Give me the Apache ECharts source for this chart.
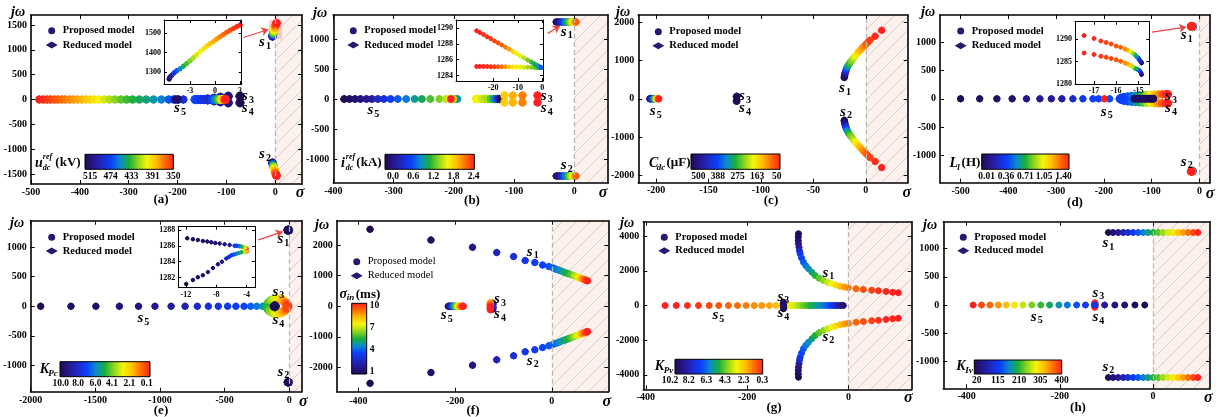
<!DOCTYPE html>
<html><head><meta charset="utf-8">
<script src="https://cdn.jsdelivr.net/npm/echarts@6/dist/echarts.min.js"></script>
<style>html,body{margin:0;padding:0;background:#fff}#c{width:1221px;height:417px}</style>
</head><body><div id="c"></div>
<script>
// ===================== DATA =====================
// tick values
const aXT=[-500,-400,-300,-200,-100,0], aYT=[-1500,-1000,-500,0,500,1000,1500], aIXT=[-3,0,3], aIYT=[1300,1400,1500], aCBT=[515,474,433,391,350];
const bXT=[-400,-300,-200,-100,0], bYT=[-1000,-500,0,500,1000], bIXT=[-20,-10,0], bIYT=[1284,1286,1288,1290], bCBT=[0.0,0.6,1.2,1.8,2.4];
const cXT=[-200,-150,-100,-50,0], cYT=[-2000,-1000,0,1000,2000], cCBT=[500,388,275,163,50];
const dXT=[-500,-400,-300,-200,-100,0], dYT=[-1000,-500,0,500,1000], dIXT=[-17,-16,-15], dIYT=[1280,1285,1290], dCBT=[0.01,0.36,0.71,1.05,1.40];
const eXT=[-2000,-1500,-1000,-500,0], eYT=[-1000,-500,0,500,1000], eIXT=[-12,-8,-4], eIYT=[1282,1284,1286,1288], eCBT=[10.0,8.0,6.0,4.1,2.1,0.1];
const fXT=[-400,-200,0], fYT=[-2000,-1000,0,1000,2000], fCBT=[1,4,7,10];
const gXT=[-400,-200,0], gYT=[-4000,-2000,0,2000,4000], gCBT=[10.2,8.2,6.3,4.3,2.3,0.3];
const hXT=[-400,-200,0], hYT=[-1000,-500,0,500,1000], hCBT=[20,115,210,305,400];

// loci: [real, imag, parameter]
// (a) parameter u_dc^ref (kV)
const a_s5=[[-483,0,350],[-475,0,352],[-467,0,355],[-460,0,357],[-452,0,360],[-445,0,363],[-437,0,366],[-430,0,369],[-421,0,372],[-413,0,375],[-405,0,378],[-396,0,381],[-387,0,385],[-379,0,389],[-370,0,394],[-361,0,399],[-350,0,405],[-339,0,411],[-328,0,417],[-316,0,423],[-304,0,428],[-292,0,432],[-278,0,436],[-264,0,440],[-249,0,445],[-233,0,451],[-218,0,460],[-208,0,466],[-198,0,472],[-188,0,478],[-204,0,505],[-200,0,510]];
const a_s34=[[-72,66,515],[-72,-66,515],[-96,66,505],[-96,-66,505],[-112,45,495],[-112,-45,495],[-125,25,488],[-125,-25,488],[-164,0,464],[-158,0,468],[-152,0,472],[-145,0,476],[-138,8,480],[-138,-8,480],[-130,0,470],[-124,0,455],[-119,0,440],[-115,0,425],[-111,0,410],[-108,0,395],[-105,0,380],[-103,0,365],[-102,0,350]];
const a_s1=[[-5.5,1266,512],[-5.4,1275,502],[-5.2,1285,490],[-4.9,1297,474],[-4.6,1307,462],[-4.2,1318,449],[-3.8,1330,436],[-3.4,1344,426],[-3.0,1358,418],[-2.6,1373,411],[-2.2,1389,404],[-1.8,1404,400],[-1.4,1418,395],[-1.0,1432,390],[-0.6,1445,385],[-0.2,1456,381],[0.2,1468,376],[0.6,1480,371],[1.0,1491,366],[1.4,1503,363],[1.8,1513,360],[2.2,1522,357],[2.6,1531,353],[3.0,1539,350]];
const a_s2=[[-5.5,-1266,512],[-5.4,-1275,502],[-5.2,-1285,490],[-4.9,-1297,474],[-4.6,-1307,462],[-4.2,-1318,449],[-3.8,-1330,436],[-3.4,-1344,426],[-3.0,-1358,418],[-2.6,-1373,411],[-2.2,-1389,404],[-1.8,-1404,400],[-1.4,-1418,395],[-1.0,-1432,390],[-0.6,-1445,385],[-0.2,-1456,381],[0.2,-1468,376],[0.6,-1480,371],[1.0,-1491,366],[1.4,-1503,363],[1.8,-1513,360],[2.2,-1522,357],[2.6,-1531,353],[3.0,-1539,350]];

// (b) parameter i_dc^ref (kA)
const b_s5=[[-382,0,0.0],[-373,0,0.06],[-364,0,0.12],[-355,0,0.18],[-345,0,0.24],[-336,0,0.3],[-326,0,0.45],[-316,0,0.55],[-305,0,0.65],[-293,0,0.8],[-279,0,0.9],[-265,0,1.05],[-253,0,1.15],[-239,0,1.3],[-224,0,1.4],[-213,0,1.55],[-194,0,1.0],[-199,0,1.2],[-207,0,1.65],[-201,0,1.9],[-205,0,2.4]];
const b_s34=[[-163,0,1.72],[-159,0,1.68],[-154,0,1.6],[-149,6,1.55],[-149,-6,1.55],[-144,0,1.5],[-139,0,1.35],[-134,0,1.15],[-130,0,0.9],[-127,0,0.6],[-124,0,0.3],[-121,0,0.05],[-116,60,1.85],[-116,-60,1.85],[-102,60,1.95],[-102,-60,1.95],[-86,60,2.1],[-86,-60,2.1],[-61,60,2.4],[-61,-60,2.4]];
const b_s1m=[[-30,1285,0.0],[-27,1285,0.15],[-24,1285,0.3],[-21,1285,0.5],[-18,1285,0.7],[-15,1285,0.9],[-12,1285,1.1],[-9,1285,1.3],[-6,1285,1.5],[-3,1285,1.7],[0,1285,1.95],[3,1285,2.2]];
const b_s2m=[[-30,-1285,0.0],[-27,-1285,0.15],[-24,-1285,0.3],[-21,-1285,0.5],[-18,-1285,0.7],[-15,-1285,0.9],[-12,-1285,1.1],[-9,-1285,1.3],[-6,-1285,1.5],[-3,-1285,1.7],[0,-1285,1.95],[3,-1285,2.2]];
const b_s1top=[[-26.8,1289.70,2.40],[-25.5,1289.47,2.38],[-24,1289.20,2.36],[-22.5,1288.93,2.34],[-21,1288.66,2.31],[-19.5,1288.39,2.28],[-18,1288.13,2.24],[-16.5,1287.86,2.20],[-15,1287.59,2.11],[-13.5,1287.32,2.0],[-12,1287.05,1.82],[-10.5,1286.78,1.72],[-9,1286.52,1.65],[-7.5,1286.25,1.55],[-6,1285.98,1.39],[-4.5,1285.71,1.25],[-3.2,1285.48,1.15],[-2.2,1285.30,1.07],[-1.4,1285.16,1.0],[-0.8,1285.05,0.9],[-0.5,1285.0,0.8]];
const b_s1bot=[[-26.8,1285.15,2.40],[-25.5,1285.14,2.39],[-24,1285.14,2.38],[-22.5,1285.13,2.36],[-21,1285.12,2.34],[-19.5,1285.12,2.30],[-18,1285.11,2.22],[-16.5,1285.10,2.12],[-15,1285.10,2.02],[-13.5,1285.09,1.85],[-12,1285.08,1.75],[-10.5,1285.07,1.70],[-9,1285.07,1.66],[-7.5,1285.06,1.60],[-6,1285.05,1.50],[-4.5,1285.04,1.42],[-3.2,1285.03,1.35],[-2.2,1285.02,1.30],[-1.4,1285.01,1.22],[-0.8,1285.0,1.1],[-0.5,1285.0,1.0]];

// (c) parameter C_dc (uF)
const c_s1=[[-20.5,560,500],[-20.3,600,490],[-20,640,470],[-19.6,690,440],[-19,740,400],[-18.3,790,360],[-17.5,840,320],[-16.6,890,285],[-15.3,940,260],[-14,990,240],[-12.6,1040,225],[-11.2,1090,205],[-9.7,1140,185],[-8.1,1190,170],[-6.5,1240,150],[-4.9,1290,135],[-3.2,1340,120],[-1.4,1390,105],[0.4,1440,90],[2.2,1490,78],[4,1540,68],[8.9,1645,58],[15.2,1801,50]];
const c_s2=[[-20.5,-560,500],[-20.3,-600,490],[-20,-640,470],[-19.6,-690,440],[-19,-740,400],[-18.3,-790,360],[-17.5,-840,320],[-16.6,-890,285],[-15.3,-940,260],[-14,-990,240],[-12.6,-1040,225],[-11.2,-1090,205],[-9.7,-1140,185],[-8.1,-1190,170],[-6.5,-1240,150],[-4.9,-1290,135],[-3.2,-1340,120],[-1.4,-1390,105],[0.4,-1440,90],[2.2,-1490,78],[4,-1540,68],[8.9,-1645,58],[15.2,-1801,50]];
const c_s5=[[-206,0,500],[-205.5,0,470],[-205,0,440],[-204,0,400],[-203,0,350],[-202,0,300],[-201,0,250],[-200,0,200],[-199,0,150],[-198,0,100],[-197.5,0,50]];
const c_s34=[[-123.5,55,450],[-123.5,-55,450],[-123,65,500],[-123,-65,500]];

// (d) parameter L_l (H)
const d_s5=[[-500,0,0.02],[-460,0,0.04],[-424,0,0.05],[-392,0,0.07],[-362,0,0.14],[-334,0,0.16],[-310,0,0.18],[-288,0,0.2],[-265,0,0.3],[-244,0,0.38],[-223,0,0.41],[-211,0,0.43],[-188,0,0.45],[-199,0,1.40]];
const d_s34=[[-167,0,0.4],[-164,18,0.41],[-158,32,0.42],[-150,42,0.44],[-142,50,0.5],[-134,56,0.58],[-126,61,0.66],[-118,66,0.76],[-110,70,0.88],[-102,73,1.0],[-94,76,1.1],[-86,78,1.2],[-78,80,1.3],[-70,80,1.37],[-66,80,1.40],
 [-164,-18,0.41],[-158,-32,0.42],[-150,-42,0.44],[-142,-50,0.5],[-134,-56,0.58],[-126,-61,0.66],[-118,-66,0.76],[-110,-70,0.88],[-102,-73,1.0],[-94,-76,1.1],[-86,-78,1.2],[-78,-80,1.3],[-70,-80,1.37],[-66,-80,1.40],
 [-136,0,0.08],[-130,0,0.07],[-124,0,0.06],[-118,0,0.05],[-112,0,0.04],[-106,0,0.03],[-100,0,0.02],[-97,0,0.01]];
const d_s1a=[[-14.85,1284.7,0.05],[-14.87,1284.9,0.12],[-14.9,1285.1,0.2],[-14.95,1285.4,0.3],[-15.0,1285.8,0.4],[-15.07,1286.1,0.55],[-15.15,1286.5,0.7],[-15.26,1286.9,0.85],[-15.37,1287.3,1.0],[-15.5,1287.6,1.12],[-15.6,1287.8,1.2],[-15.8,1288.2,1.28],[-16.0,1288.5,1.30],[-16.23,1288.9,1.32],[-16.45,1289.26,1.34],[-16.69,1289.6,1.36],[-17.0,1290.14,1.38],[-17.45,1290.8,1.40]];
const d_s1b=[[-14.85,1282.1,0.05],[-14.88,1282.5,0.2],[-14.95,1283.0,0.4],[-15.05,1283.3,0.55],[-15.15,1283.5,0.7],[-15.26,1283.9,0.9],[-15.37,1284.2,1.05],[-15.5,1284.5,1.15],[-15.6,1284.7,1.2],[-15.8,1285.1,1.28],[-16.0,1285.4,1.30],[-16.23,1285.7,1.32],[-16.45,1285.95,1.34],[-16.69,1286.2,1.36],[-17.0,1286.6,1.38],[-17.45,1286.9,1.40]];
const d_s2a=[[-14.85,-1284.7,0.05],[-14.9,-1285.1,0.2],[-15.0,-1285.8,0.4],[-15.15,-1286.5,0.7],[-15.37,-1287.3,1.0],[-15.6,-1287.8,1.2],[-16.0,-1288.5,1.30],[-16.45,-1289.26,1.34],[-17.0,-1290.14,1.38],[-17.45,-1290.8,1.40]];
const d_s2b=[[-14.85,-1282.1,0.05],[-14.95,-1283.0,0.4],[-15.15,-1283.5,0.7],[-15.37,-1284.2,1.05],[-15.6,-1284.7,1.2],[-16.0,-1285.4,1.30],[-16.45,-1285.95,1.34],[-17.0,-1286.6,1.38],[-17.45,-1286.9,1.40]];

// (e) parameter K_Pc
const e_s5=[[-1923,0,10.0],[-1689,0,9.8],[-1496,0,9.6],[-1314,0,9.4],[-1166,0,9.2],[-1039,0,9.0],[-914,0,8.8],[-806,0,8.5],[-711,0,8.0],[-626,0,7.8],[-549,0,7.6],[-477,0,7.4],[-413,0,7.2],[-350,0,7.0],[-299,0,6.6],[-252,0,6.3],[-206,0,6.0],[-175,0,5.6],[-136,0,5.2]];
const e_s34=[[-172,0,5.3],[-168,35,5.0],[-158,65,4.6],[-145,90,4.2],[-128,110,3.8],[-110,122,3.4],[-92,125,3.0],[-75,118,2.6],[-58,104,2.2],[-44,86,1.8],[-32,64,1.4],[-22,40,1.0],[-15,18,0.6],[-12,0,0.1],
 [-168,-35,5.0],[-158,-65,4.6],[-145,-90,4.2],[-128,-110,3.8],[-110,-122,3.4],[-92,-125,3.0],[-75,-118,2.6],[-58,-104,2.2],[-44,-86,1.8],[-32,-64,1.4],[-22,-40,1.0],[-15,-18,0.6]];
const e_s34c=[[-112,0,10.0]];
const e_s1a=[[-4.0,1285.65,0.1],[-4.04,1285.7,1.0],[-4.15,1285.75,2.0],[-4.26,1285.8,3.0],[-4.48,1285.85,4.0],[-4.7,1285.9,5.0],[-4.92,1285.95,5.8],[-5.14,1285.99,6.5],[-5.36,1286.0,7.0],[-5.58,1286.02,7.5],[-6.24,1286.1,8.9],[-6.9,1286.2,9.1],[-7.56,1286.28,9.3],[-8.13,1286.36,9.4],[-8.66,1286.45,9.5],[-9.19,1286.53,9.6],[-9.76,1286.6,9.7],[-10.42,1286.74,9.8],[-11.08,1286.83,9.9],[-11.83,1286.95,10.0]];
const e_s1b=[[-4.0,1285.3,0.1],[-4.04,1285.27,2.0],[-4.37,1285.24,3.5],[-4.7,1285.2,5.0],[-5.03,1285.1,5.6],[-5.36,1285.0,6.2],[-5.69,1284.9,6.7],[-6.02,1284.8,7.2],[-6.35,1284.6,7.6],[-6.68,1284.4,8.0],[-7.25,1284.0,9.1],[-7.78,1283.7,9.3],[-8.44,1283.2,9.5],[-9.1,1282.7,9.6],[-9.76,1282.3,9.7],[-10.42,1282.05,9.8],[-11.08,1281.7,9.9],[-11.96,1281.2,10.0]];
const e_s2=[[-4.0,-1285.5,0.1],[-4.7,-1285.6,5.0],[-5.58,-1285.5,7.5],[-6.9,-1285.1,9.1],[-8.44,-1284.8,9.5],[-10.42,-1284.4,9.8],[-11.9,-1284.1,10.0]];

// (f) parameter sigma_in (ms)
const f_s1=[[-376,2516,1.0],[-250,2167,1.3],[-164,1927,1.8],[-114,1752,2.5],[-79,1622,3.0],[-55,1491,3.3],[-35,1426,3.5],[-19,1350,3.7],[-6,1296,3.9],[3,1246,4.1],[9,1211,4.3],[15,1176,4.6],[21,1140,4.9],[27,1105,5.2],[33,1070,5.5],[39,1035,5.9],[45,1000,6.4],[50,970,6.9],[55,941,7.5],[60,911,8.1],[64,888,8.7],[68,864,9.2],[71,847,9.6],[74,829,10.0]];
const f_s2=[[-376,-2516,1.0],[-250,-2167,1.3],[-164,-1927,1.8],[-114,-1752,2.5],[-79,-1622,3.0],[-55,-1491,3.3],[-35,-1426,3.5],[-19,-1350,3.7],[-6,-1296,3.9],[3,-1246,4.1],[9,-1211,4.3],[15,-1176,4.6],[21,-1140,4.9],[27,-1105,5.2],[33,-1070,5.5],[39,-1035,5.9],[45,-1000,6.4],[50,-970,6.9],[55,-941,7.5],[60,-911,8.1],[64,-888,8.7],[68,-864,9.2],[71,-847,9.6],[74,-829,10.0]];
const f_s5=[[-214,0,1],[-211.5,0,1.8],[-209,0,2.6],[-206.5,0,3.4],[-204,0,4.2],[-201.5,0,5],[-199,0,5.8],[-196.5,0,6.6],[-194,0,7.4],[-191,0,8.2],[-188,0,9],[-185,0,9.6],[-183,0,10]];
const f_s34=[[-122,95,1],[-122,-95,1],[-122,45,2],[-122,-45,2],[-122,0,3],[-127,115,8.5],[-127,-115,10],[-127,80,8.8],[-127,-80,10],[-127,45,9.2],[-127,-45,10],[-127,15,9.6],[-127,-15,10]];

// (g) parameter K_Pv
const g_s5=[[-362,0,0.3],[-340,0,0.3],[-318,0,0.5],[-296,0,0.6],[-275,0,0.8],[-256,0,1.0],[-237,0,1.2],[-219,0,1.3],[-202,0,1.5],[-186,0,1.7],[-171,0,1.8],[-156,0,2.0],[-143,0,2.3],[-131,0,2.5],[-124,0,2.8],[-118,0,3.1],[-113,0,3.3],[-108,0,3.5],[-103,0,3.7],[-98,0,4.0],[-93,0,4.2],[-89,0,4.5],[-84,0,4.7],[-79,0,5.0],[-74,0,5.2],[-69,0,5.5],[-64,0,5.7],[-59,0,5.9],[-54,0,6.2],[-49,0,6.4],[-44,0,6.7],[-39,0,6.9],[-34,0,7.3],[-29,0,7.7],[-25,0,8.2],[-20,0,8.7],[-15,0,9.2],[-10,0,9.7]];
const g_s1=[[-98.6,4143,10.2],[-99,3950,10.0],[-99,3750,9.7],[-98.6,3564,9.4],[-97.5,3350,9.0],[-96.5,3150,8.4],[-95.3,2987,7.7],[-92.5,2750,7.2],[-88.8,2505,6.9],[-84,2300,6.5],[-78.9,2120,6.2],[-72,1920,5.7],[-65.8,1734,5.2],[-58,1580,4.7],[-49.3,1445,4.3],[-41,1340,3.7],[-32.9,1252,3.3],[-25,1180,2.8],[-16.4,1117,2.3],[-8,1065,1.9],[0,1021,1.6],[15.1,963,1.2],[29.6,925,0.9],[46,886,0.7],[59.2,848,0.5],[74.3,809,0.4],[87.4,771,0.35],[98.6,732,0.3]];
const g_s2=[[-98.6,-4143,10.2],[-99,-3950,10.0],[-99,-3750,9.7],[-98.6,-3564,9.4],[-97.5,-3350,9.0],[-96.5,-3150,8.4],[-95.3,-2987,7.7],[-92.5,-2750,7.2],[-88.8,-2505,6.9],[-84,-2300,6.5],[-78.9,-2120,6.2],[-72,-1920,5.7],[-65.8,-1734,5.2],[-58,-1580,4.7],[-49.3,-1445,4.3],[-41,-1340,3.7],[-32.9,-1252,3.3],[-25,-1180,2.8],[-16.4,-1117,2.3],[-8,-1065,1.9],[0,-1021,1.6],[15.1,-963,1.2],[29.6,-925,0.9],[46,-886,0.7],[59.2,-848,0.5],[74.3,-809,0.4],[87.4,-771,0.35],[98.6,-732,0.3]];
const g_s34=[[-128,190,10.2],[-128,-190,10.2],[-128,100,10.0],[-128,-100,10.0],[-128,0,9.8]];

// (h) parameter K_Iv
const h_s5=[[-386,0,400],[-368,0,381],[-350,0,362],[-332,0,343],[-315,0,324],[-297,0,297],[-279,0,267],[-260,0,240],[-241,0,218],[-222,0,202],[-202,0,180],[-184,0,161],[-164,0,142],[-145,0,126],[-104,0,66],[-82,0,54],[-61,0,43],[-39,0,31],[-18,0,20]];
const h_s34=[[-125,35,400],[-125,-35,400],[-125,15,395],[-125,-15,395],[-125,0,115]];
const h_s1=[[-96,1288,20],[-86,1288,40],[-75,1288,62],[-64,1288,83],[-54,1288,103],[-43,1288,125],[-32,1288,145],[-21,1288,167],[-11,1288,188],[0,1288,210],[11,1288,232],[21,1288,253],[32,1288,274],[43,1288,295],[54,1288,317],[64,1288,337],[75,1288,359],[86,1288,380],[96,1288,400]];
const h_s2=[[-96,-1288,20],[-86,-1288,40],[-75,-1288,62],[-64,-1288,83],[-54,-1288,103],[-43,-1288,125],[-32,-1288,145],[-21,-1288,167],[-11,-1288,188],[0,-1288,210],[11,-1288,232],[21,-1288,253],[32,-1288,274],[43,-1288,295],[54,-1288,317],[64,-1288,337],[75,-1288,359],[86,-1288,380],[96,-1288,400]];

// ===================== STYLE / LAYOUT =====================
const F='Liberation Serif';
const DARK='#2b1670';
const CMAP=['#1e0b52','#26178c','#1d2ac8','#0a40ff','#0a8ccc','#18b03a','#8fd61e','#f5f50a','#ffbe00','#ff6a00','#ff2020'];

const PANELS=[
 {box:[31,15,302,184],xr:[-500,55],yr:[-1700,1700],xt:aXT,yt:aYT,cm:[515,350],mx:3,
  loci:[[a_s5,8],[a_s34,9],[a_s1,8],[a_s2,8]],
  inset:{box:[164,20,241.7,84],xr:[-6.12,3.2],yr:[1240,1565],xt:aIXT,yt:aIYT,loci:[[a_s1,5]]},
  pink:[[-12,1214],[14,1597]],arrow:[[-65,1248],[-13.7,1409]],
  legend:[46.7,25.7,14.3],cb:{box:[85,154.3,173.3,169.3],ends:[525,350],ticks:aCBT,dec:0}},
 {box:[333.3,15,608,183],xr:[-400,56],yr:[-1400,1400],xt:bXT,yt:bYT,cm:[0,2.4],mx:3,
  loci:[[b_s5,7.5],[b_s34,8],[b_s1m,7],[b_s2m,7]],
  inset:{box:[456,20,543,81],xr:[-35.2,0.3],yr:[1283.3,1291.05],xt:bIXT,yt:bIYT,loci:[[b_s1bot,4.5],[b_s1top,4.5]]},
  pink:[[-35,1232],[6,1343]],arrow:[[-44,1094],[-23.7,1215]],
  legend:[348.3,25.7,14.3],cb:{box:[385,154.3,474.3,169.3],ends:[-0.24,2.42],ticks:bCBT,dec:1}},
 {box:[638.3,15,907.7,182.7],xr:[-217,40],yr:[-2200,2200],xt:cXT,yt:cYT,cm:[500,50],mx:3,
  loci:[[c_s5,7],[c_s34,7],[c_s1,7],[c_s2,7]],
  legend:[653.3,26.7,14],cb:{box:[691,154,780,169.3],ends:[542,31],ticks:cCBT,dec:0}},
 {box:[940,15,1210,182.7],xr:[-543,22],yr:[-1490,1490],xt:dXT,yt:dYT,cm:[0.01,1.40],mx:4,
  loci:[[d_s5,7],[d_s34,8],[d_s1b,8],[d_s1a,8],[d_s2b,8],[d_s2a,8]],
  inset:{box:[1075,21.7,1149.3,84],xr:[-17.86,-14.5],yr:[1280,1293.9],xt:dIXT,yt:dIYT,loci:[[d_s1a,4.5],[d_s1b,4.5]]},
  pink:[[-23,1214],[-4.8,1345]],arrow:[[-99.6,1186],[-27.8,1274]],
  legend:[955.7,26,14.7],cb:{box:[981.7,154,1069,169.3],ends:[-0.08,1.50],ticks:dCBT,dec:2}},
 {box:[30.7,220.7,301.7,391.7],xr:[-2000,96],yr:[-1445,1445],xt:eXT,yt:eYT,cm:[10,0.1],mx:4,
  loci:[[e_s5,7],[e_s34,9],[e_s34c,10],[e_s1a,8],[e_s1b,8],[e_s2,8]],
  inset:{box:[178.3,226.7,255,287.7],xr:[-13.0,-2.9],yr:[1280.74,1288.4],xt:eIXT,yt:eIYT,loci:[[e_s1a,4],[e_s1b,4]]},
  pink:[[-33,1233],[31,1334]],arrow:[[-240,1120],[-51,1260]],
  legend:[46.7,232.3,13.7],cb:{box:[60,361.7,150,376.7],ends:[10.08,-0.28],ticks:eCBT,dec:1}},
 {box:[336.7,220.7,608.3,391.7],xr:[-445,117],yr:[-2795,2795],xt:fXT,yt:fYT,cm:[1,10],mx:5,legW:'normal',
  loci:[[f_s5,7],[f_s34,7],[f_s1,7],[f_s2,7]],
  legend:[351.7,256.7,14],cb:{box:[351.7,303.3,366.7,374],ends:[0.69,10.37],ticks:fCBT,dec:0,vert:true}},
 {box:[643.3,221.7,911.7,389.3],xr:[-405,125],yr:[-4840,4840],xt:gXT,yt:gYT,cm:[10.2,0.3],mx:3,
  loci:[[g_s5,6.5],[g_s34,6.5],[g_s1,6.5],[g_s2,6.5]],
  legend:[659.3,232.3,13.4],cb:{box:[675,359.3,762.7,374],ends:[9.67,0.26],ticks:gCBT,dec:1}},
 {box:[943.3,221.7,1210,388.3],xr:[-450,122],yr:[-1480,1480],xt:hXT,yt:hYT,cm:[20,400],mx:3,
  loci:[[h_s5,6.5],[h_s34,7],[h_s1,6.5],[h_s2,6.5]],
  legend:[958.3,232.3,13.4],cb:{box:[974.3,360,1061.7,374],ends:[9.3,400],ticks:hCBT,dec:0}}
];

// ===================== BUILD =====================
const grid=[],xAxis=[],yAxis=[],series=[],visualMap=[],legend=[],graphic=[];
function hatch(){const c=document.createElement('canvas');c.width=14;c.height=14;const g=c.getContext('2d');
 g.fillStyle='#fdf1ed';g.fillRect(0,0,14,14);g.strokeStyle='#d9cdc9';g.lineWidth=1;g.beginPath();
 g.moveTo(-1,15);g.lineTo(15,-1);g.moveTo(-1,1);g.lineTo(1,-1);g.moveTo(13,15);g.lineTo(15,13);g.stroke();return c;}
const HATCH={image:hatch(),repeat:'repeat'};
const plain=v=>String(v);

function axes(gi,xr,yr,xt,yt,o){
 const mk=(pos,r,t,lab,m)=>({gridIndex:gi,type:'value',position:pos,min:r[0],max:r[1],z:6,
  axisLine:{show:true,onZero:false,lineStyle:{color:'#000',width:o.lw}},
  axisTick:{show:true,inside:true,length:o.tl,customValues:t,lineStyle:{color:'#000',width:1}},
  axisLabel:{show:lab,customValues:t,formatter:plain,margin:m,color:'#000',fontFamily:F,fontWeight:'bold',fontSize:o.fs},
  splitLine:{show:false}});
 const xi=xAxis.length, yi=yAxis.length;
 xAxis.push(mk('bottom',xr,xt,true,o.mx)); xAxis.push(mk('top',xr,xt,false,2));
 yAxis.push(mk('left',yr,yt,true,o.my)); yAxis.push(mk('right',yr,yt,false,2));
 return [xi,yi];
}

function colorbar(cb,dv,rv){
 const [x0,y0,x1,y1]=cb.box, vert=!!cb.vert, [e0,e1]=cb.ends;
 const L=vert?(y1-y0):(x1-x0), k=L/(e1-e0);
 let p0=0,p1=L; cb.ticks.forEach(v=>{const p=(v-e0)*k; p0=Math.min(p0,p-0.01); p1=Math.max(p1,p+0.01);});
 const va=e0+p0/k, vb=e0+p1/k, lo=Math.min(va,vb), hi=Math.max(va,vb);
 const gi=grid.length;
 if(!vert) grid.push({left:x0+p0,top:y0,width:p1-p0,height:y1-y0});
 else grid.push({left:x0,top:y1-p1,width:x1-x0,height:p1-p0});
 const valAx={gridIndex:gi,type:'value',min:lo,max:hi,inverse:k<0,
  axisLine:{show:false},axisTick:{show:false},splitLine:{show:false},
  axisLabel:{customValues:cb.ticks,formatter:v=>Number(v).toFixed(cb.dec),margin:vert?3:2,color:'#000',fontFamily:F,fontWeight:'bold',fontSize:9.5}};
 const otherAx={gridIndex:gi,type:'value',min:0,max:1,show:false};
 const xi=xAxis.length, yi=yAxis.length;
 if(!vert){xAxis.push(Object.assign({position:'bottom'},valAx)); yAxis.push(otherAx);}
 else {yAxis.push(Object.assign({position:'right'},valAx)); xAxis.push(otherAx);}
 const darkFirst=Math.abs(e0-dv)<Math.abs(e0-rv);
 const cols=darkFirst?CMAP:CMAP.slice().reverse();
 const stops=cols.map((c,i)=>({offset:i/(cols.length-1),color:c}));
 const grad=vert?new echarts.graphic.LinearGradient(0,1,0,0,stops):new echarts.graphic.LinearGradient(0,0,1,0,stops);
 const c0=vert?[0,e0]:[e0,0], c1=vert?[1,e1]:[e1,1];
 series.push({type:'scatter',name:'cb',xAxisIndex:xi,yAxisIndex:yi,data:[],silent:true,z:5,
  markArea:{silent:true,data:[[{coord:c0,itemStyle:{color:grad,borderColor:'#000',borderWidth:1}},{coord:c1}]]}});
}

function panel(P){
 const gi=grid.length, b=P.box;
 grid.push({left:b[0],top:b[1],width:b[2]-b[0],height:b[3]-b[1]});
 const [xi,yi]=axes(gi,P.xr,P.yr,P.xt,P.yt,{lw:1.6,tl:4,fs:10,mx:P.mx,my:4});
 const areas=[[{coord:[0,P.yr[0]],itemStyle:{color:HATCH}},{coord:[P.xr[1],P.yr[1]]}]];
 if(P.pink) areas.push([{coord:P.pink[0],itemStyle:{color:'rgba(240,160,160,0.55)'}},{coord:P.pink[1]}]);
 const lines=[{xAxis:0,lineStyle:{color:'#b8b8b8',type:[5,3],width:1.3}}];
 if(P.arrow){const ls={color:'#ee4444',width:1.2,type:'solid'};
  lines.push([{coord:P.arrow[0],symbol:'none',lineStyle:ls},{coord:P.arrow[1],symbol:'arrow',symbolSize:7,lineStyle:ls}]);}
 series.push({type:'scatter',name:'deco',xAxisIndex:xi,yAxisIndex:yi,data:[],silent:true,z:1,
  markArea:{silent:true,data:areas},
  markLine:{silent:true,symbol:['none','none'],label:{show:false},emphasis:{disabled:true},data:lines}});
 const idx=[];
 const addLoci=(loci,X,Y,z)=>loci.forEach(([d,s])=>{
  idx.push(series.length);
  series.push({type:'scatter',name:'Reduced model',xAxisIndex:X,yAxisIndex:Y,data:d,symbol:'diamond',symbolSize:s+1,itemStyle:{color:DARK,opacity:1},z:z,silent:true});
  idx.push(series.length);
  series.push({type:'scatter',name:'Proposed model',xAxisIndex:X,yAxisIndex:Y,data:d,symbol:'circle',symbolSize:s,itemStyle:{color:DARK,opacity:1},z:z,silent:true});
 });
 addLoci(P.loci,xi,yi,3);
 if(P.inset){const I=P.inset, ib=I.box, ig=grid.length;
  grid.push({left:ib[0],top:ib[1],width:ib[2]-ib[0],height:ib[3]-ib[1],show:true,backgroundColor:'#fff',borderWidth:0});
  const [ixi,iyi]=axes(ig,I.xr,I.yr,I.xt,I.yt,{lw:1,tl:3,fs:8,mx:3,my:3});
  addLoci(I.loci,ixi,iyi,4);
 }
 const [dv,rv]=P.cm;
 visualMap.push({type:'continuous',show:false,dimension:2,seriesIndex:idx,min:Math.min(dv,rv),max:Math.max(dv,rv),
  inRange:{color:dv<rv?CMAP:CMAP.slice().reverse()}});
 const [lx,ly,lsp]=P.legend;
 legend.push({orient:'vertical',left:lx-6,top:ly-6,itemWidth:12,itemHeight:7,itemGap:lsp-12,selectedMode:false,
  textStyle:{fontFamily:F,fontWeight:P.legW||'bold',fontSize:10.5,color:'#000',lineHeight:12},
  data:[{name:'Proposed model',icon:'circle',itemStyle:{color:DARK}},{name:'Reduced model',icon:'diamond',itemStyle:{color:DARK}}]});
 colorbar(P.cb,dv,rv);
}
PANELS.forEach(panel);

// ---------- text annotations ----------
function T(x,y,s,size,it,w,al){graphic.push({type:'text',x:x,y:y,z:100,silent:true,
 style:{text:s,fill:'#000',fontSize:size,fontStyle:it?'italic':'normal',fontWeight:w||'bold',fontFamily:F,align:al||'center',verticalAlign:'middle'}});}
function S(x,y,n){T(x-3,y,'s',15,true); T(x+3.5,y+4,String(n),10,false);}
[[18,12],[320,13],[623,12],[928,12],[17,223],[322,225],[627,223],[930,225]].forEach(p=>T(p[0],p[1],'j\u03c9',14,true));
[[300,193],[603,193],[906.7,193],[1210,194],[303.3,401.7],[606.7,401.7],[908.3,398.3],[1208.3,398.3]].forEach(p=>T(p[0],p[1],'\u03c3',16,true));
[['(a)',161,200],['(b)',472,201],['(c)',771,200.5],['(d)',1075,203],['(e)',161,411],['(f)',473,410.5],['(g)',774,408],['(h)',1078,407.5]].forEach(p=>T(p[1],p[2],p[0],13,false));
const SL=[
 [[265,42],[265,154],[248,96],[247.7,108.3],[180,108.3]],
 [[566.7,31.7],[566.7,165],[546.7,95.7],[546.7,108.3],[373.3,110]],
 [[845,88.3],[846,111.7],[745,96],[745,108.3],[655.7,111]],
 [[1186.7,35],[1186.7,161.7],[1171,96],[1171,108.3],[1106.7,111.7]],
 [[283.3,239.3],[283.3,371.7],[278.3,291.7],[278.3,320],[143.3,318.3]],
 [[532.7,251.7],[532.7,360.7],[500,299],[500,314.3],[446.7,315]],
 [[828.3,272.7],[828.3,336.7],[783.3,296.7],[783.3,313.3],[718.3,315]],
 [[1108.3,243.3],[1108.3,366.7],[1098.3,292.7],[1098.3,317.3],[1036.7,316.7]]];
SL.forEach(ps=>ps.forEach((p,i)=>S(p[0],p[1],i+1)));
// colorbar names
T(39,163,'u',14,true); T(47.5,157,'ref',8,true); T(46.5,167.5,'dc',8,true); T(68,163,'(kV)',13,false);
T(343,163,'i',14,true); T(350.5,157,'ref',8,true); T(349.5,167.5,'dc',8,true); T(369,163,'(kA)',13,false);
T(653.7,163,'C',14,true); T(661,167.5,'dc',9,true); T(678.5,163,'(\u03bcF)',13,false);
T(953.7,163,'L',14,true); T(958.5,167.5,'l',9,true); T(971,163,'(H)',13,false);
T(44.5,369,'K',14,true); T(53,374,'Pc',9,true);
T(343.3,294.3,'\u03c3',14,true); T(350.5,298,'in',9,true); T(368,294.3,'(ms)',13,false);
T(659.5,366.7,'K',14,true); T(668.5,371,'Pv',9,true);
T(960.8,366.7,'K',14,true); T(969,371,'Iv',9,true);

const chart=echarts.init(document.getElementById('c'),null,{renderer:'canvas'});
chart.setOption({animation:false,backgroundColor:'#fff',grid,xAxis,yAxis,series,visualMap,legend,graphic});
</script></body></html>
